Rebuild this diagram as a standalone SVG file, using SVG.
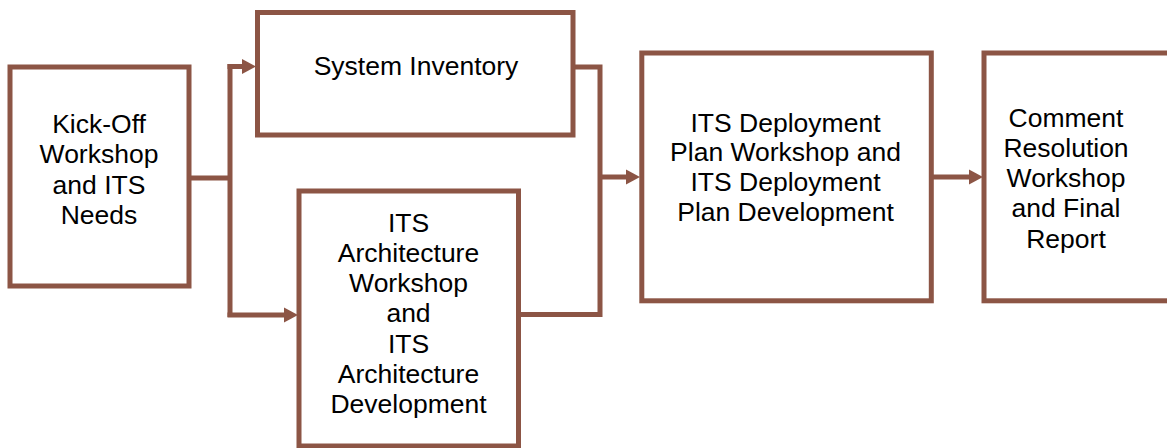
<svg xmlns="http://www.w3.org/2000/svg" width="1167" height="448" viewBox="0 0 1167 448">
<style>
.box{fill:#ffffff;stroke:#8C5545;stroke-width:5}
.ln{fill:none;stroke:#8C5545;stroke-width:5;stroke-linejoin:miter}
.ah{fill:#8C5545}
.t{font-family:"Liberation Sans",Arial,sans-serif;font-size:26.5px;fill:#000;text-anchor:middle}
</style>
<rect width="1167" height="448" fill="#ffffff"/>
<g id="connectors">
<path class="ln" d="M189,178 H230"/>
<path class="ln" d="M230,64 V317"/>
<path class="ln" d="M227.5,66.5 H244"/>
<polygon class="ah" points="242,59 256,66.5 242,74"/>
<path class="ln" d="M227.5,315 H286"/>
<polygon class="ah" points="284,307.5 298,315 284,322.5"/>
<path class="ln" d="M573,67 H600 V314.5 H518"/>
<path class="ln" d="M600,177 H628"/>
<polygon class="ah" points="626,169.5 640,177 626,184.5"/>
<path class="ln" d="M931,177 H971"/>
<polygon class="ah" points="969,169.5 983,177 969,184.5"/>
</g>
<g id="kickoff">
<rect class="box" x="10" y="67" width="179" height="219"/>
<text class="t" x="99" y="133"><tspan x="99">Kick-Off</tspan><tspan x="99" dy="30.3">Workshop</tspan><tspan x="99" dy="30.3">and ITS</tspan><tspan x="99" dy="30.3">Needs</tspan></text>
</g>
<g id="inventory">
<rect class="box" x="257.5" y="12.5" width="315.5" height="122.5"/>
<text class="t" x="416" y="75">System Inventory</text>
</g>
<g id="architecture">
<rect class="box" x="299" y="191" width="219.5" height="255"/>
<text class="t" x="408.5" y="231.5"><tspan x="408.5">ITS</tspan><tspan x="408.5" dy="30.3">Architecture</tspan><tspan x="408.5" dy="30.3">Workshop</tspan><tspan x="408.5" dy="30.3">and</tspan><tspan x="408.5" dy="30.3">ITS</tspan><tspan x="408.5" dy="30.3">Architecture</tspan><tspan x="408.5" dy="30.3">Development</tspan></text>
</g>
<g id="deployment">
<rect class="box" x="641.8" y="53" width="289.5" height="247.8"/>
<text class="t" x="785.5" y="131.7"><tspan x="785.5">ITS Deployment</tspan><tspan x="785.5" dy="29.6">Plan Workshop and</tspan><tspan x="785.5" dy="29.6">ITS Deployment</tspan><tspan x="785.5" dy="29.6">Plan Development</tspan></text>
</g>
<g id="comment">
<rect class="box" x="984" y="53" width="200" height="247.8"/>
<text class="t" x="1066" y="126.5"><tspan x="1066">Comment</tspan><tspan x="1066" dy="30.3">Resolution</tspan><tspan x="1066" dy="30.3">Workshop</tspan><tspan x="1066" dy="30.3">and Final</tspan><tspan x="1066" dy="30.3">Report</tspan></text>
</g>
</svg>
